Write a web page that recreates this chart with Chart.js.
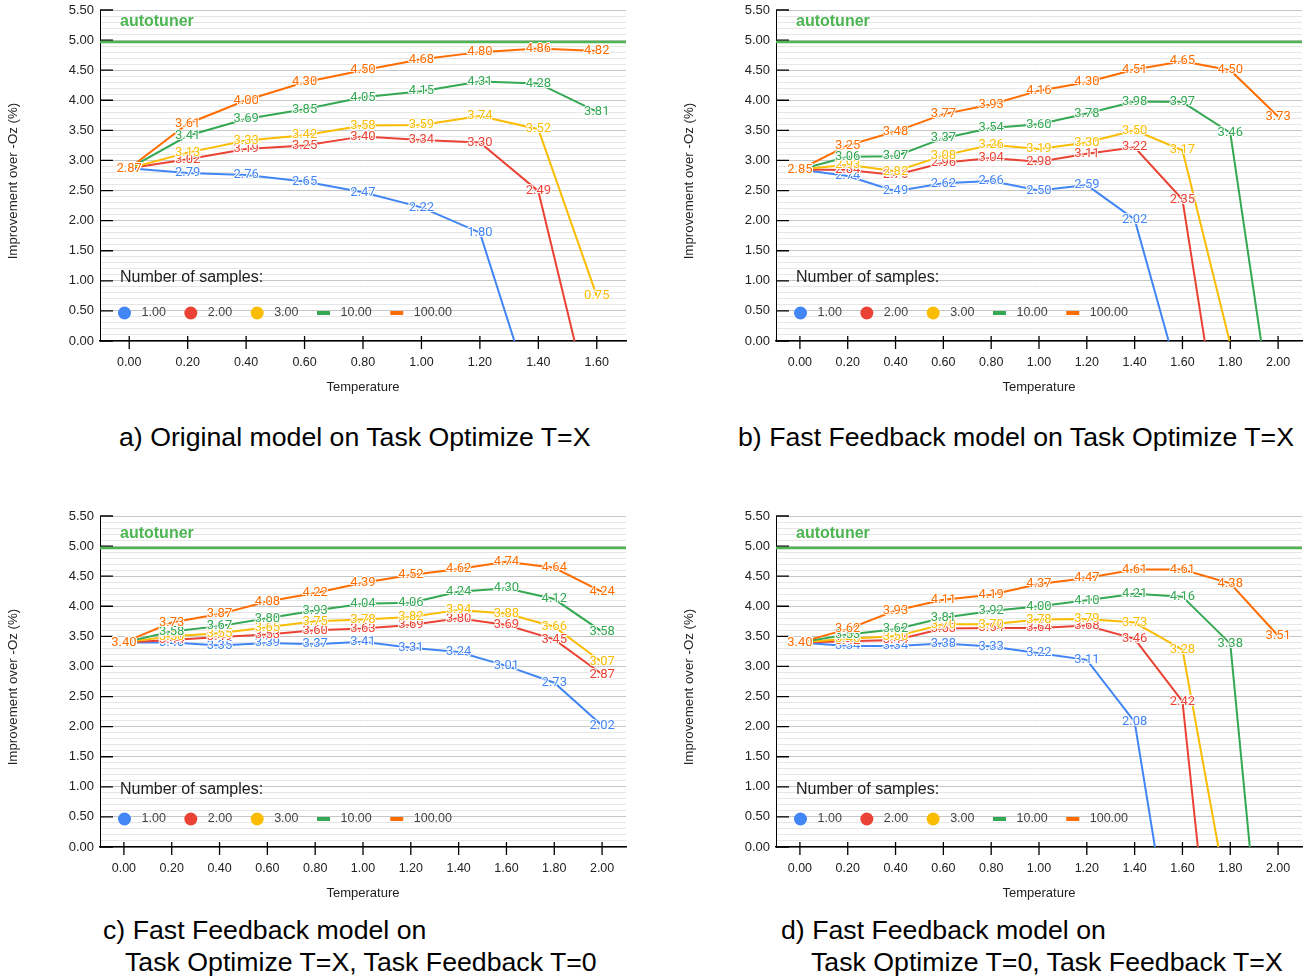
<!DOCTYPE html>
<html>
<head>
<meta charset="utf-8">
<script src="https://cdn.jsdelivr.net/npm/chart.js@4.4.1/dist/chart.umd.min.js"></script>
<style>
  body { margin: 0; background: #fff; width: 1307px; height: 978px; position: relative; overflow: hidden;
         font-family: "Liberation Sans", Arial, sans-serif; }
  .panel { position: absolute; }
  .caption { position: absolute; font-size: 26.7px; line-height: 32px; color: #000; white-space: nowrap; }
</style>
</head>
<body>
<div class="panel" style="left:0;top:0;width:640px;height:400px"><canvas id="chartA"></canvas></div>
<div class="panel" style="left:676px;top:0;width:631px;height:400px"><canvas id="chartB"></canvas></div>
<div class="panel" style="left:0;top:506px;width:640px;height:400px"><canvas id="chartC"></canvas></div>
<div class="panel" style="left:676px;top:506px;width:631px;height:400px"><canvas id="chartD"></canvas></div>

<div class="caption" style="left:119px;top:421px">a) Original model on Task Optimize T=X</div>
<div class="caption" style="left:738px;top:421px">b) Fast Feedback model on Task Optimize T=X</div>
<div class="caption" style="left:103px;top:914px">c) Fast Feedback model on</div>
<div class="caption" style="left:125px;top:946px">Task Optimize T=X, Task Feedback T=0</div>
<div class="caption" style="left:781px;top:914px">d) Fast Feedback model on</div>
<div class="caption" style="left:811px;top:946px">Task Optimize T=0, Task Feedback T=X</div>

<script>
// temperatures (x categories)
const tempsShort = ['0.00', '0.20', '0.40', '0.60', '0.80', '1.00', '1.20', '1.40', '1.60'];
const tempsLong = ['0.00', '0.20', '0.40', '0.60', '0.80', '1.00', '1.20', '1.40', '1.60', '1.80', '2.00'];
const sampleCounts = ['1.00', '2.00', '3.00', '10.00', '100.00'];
const autotuner = 4.97;

// a) Original model on Task Optimize T=X
const a1 = [2.87, 2.79, 2.76, 2.65, 2.47, 2.22, 1.80, -1.25, null];
const a2 = [2.87, 3.02, 3.19, 3.25, 3.40, 3.34, 3.30, 2.49, -1.53];
const a3 = [2.87, 3.13, 3.33, 3.42, 3.58, 3.59, 3.74, 3.52, 0.75];
const a10 = [2.87, 3.41, 3.69, 3.85, 4.05, 4.15, 4.31, 4.28, 3.81];
const a100 = [2.87, 3.61, 4.00, 4.30, 4.50, 4.68, 4.80, 4.86, 4.82];

// b) Fast Feedback model on Task Optimize T=X
const b1 = [2.85, 2.74, 2.49, 2.62, 2.66, 2.50, 2.59, 2.02, -0.82, null, null];
const b2 = [2.85, 2.84, 2.76, 2.96, 3.04, 2.98, 3.11, 3.22, 2.35, -2.69, null];
const b3 = [2.85, 2.93, 2.82, 3.08, 3.26, 3.19, 3.30, 3.50, 3.17, -0.05, null];
const b10 = [2.85, 3.06, 3.07, 3.37, 3.54, 3.60, 3.78, 3.98, 3.97, 3.46, -1.91];
const b100 = [2.85, 3.25, 3.48, 3.77, 3.93, 4.16, 4.30, 4.51, 4.65, 4.50, 3.73];

// c) Task Optimize T=X, Task Feedback T=0
const c1 = [3.40, 3.40, 3.35, 3.39, 3.37, 3.41, 3.31, 3.24, 3.01, 2.73, 2.02];
const c2 = [3.40, 3.44, 3.49, 3.53, 3.60, 3.63, 3.69, 3.80, 3.69, 3.45, 2.87];
const c3 = [3.40, 3.50, 3.55, 3.65, 3.75, 3.78, 3.82, 3.94, 3.88, 3.66, 3.07];
const c10 = [3.40, 3.58, 3.67, 3.80, 3.93, 4.04, 4.06, 4.24, 4.30, 4.12, 3.58];
const c100 = [3.40, 3.73, 3.87, 4.08, 4.22, 4.39, 4.52, 4.62, 4.74, 4.64, 4.24];

// d) Task Optimize T=0, Task Feedback T=X
const d1 = [3.40, 3.34, 3.34, 3.38, 3.33, 3.22, 3.11, 2.08, -2.82, null, null];
const d2 = [3.40, 3.42, 3.44, 3.63, 3.64, 3.64, 3.68, 3.46, 2.42, -5.10, null];
const d3 = [3.40, 3.46, 3.50, 3.70, 3.70, 3.78, 3.79, 3.73, 3.28, -1.09, null];
const d10 = [3.40, 3.53, 3.62, 3.81, 3.92, 4.00, 4.10, 4.21, 4.16, 3.38, -4.90];
const d100 = [3.40, 3.62, 3.93, 4.11, 4.19, 4.37, 4.47, 4.61, 4.61, 4.38, 3.51];

const colors = ['#4285f4', '#ea4335', '#fbbc04', '#34a853', '#ff6d01'];
const autotunerColor = '#4db552';
const fontFamily = '"Liberation Sans", Arial, sans-serif';

Chart.defaults.font.family = fontFamily;
Chart.defaults.color = '#222';

function isMajor(v) {
    return Math.round(v * 10) % 5 === 0;
}

// short black tick marks on the axes
const axisTicks = {
    id: 'axisTicks',
    beforeDatasetsDraw(chart) {
        const {ctx, chartArea, scales} = chart;
        ctx.save();
        ctx.strokeStyle = '#000';
        ctx.lineWidth = 1.3;
        ctx.beginPath();
        scales.y.ticks.forEach(t => {
            if (!isMajor(t.value)) return;
            const y = scales.y.getPixelForValue(t.value);
            ctx.moveTo(chartArea.left, y);
            ctx.lineTo(chartArea.left + 13, y);
        });
        scales.x.ticks.forEach((t, i) => {
            const x = scales.x.getPixelForTick(i);
            ctx.moveTo(x, chartArea.bottom - 5);
            ctx.lineTo(x, chartArea.bottom + 8);
        });
        ctx.stroke();
        ctx.restore();
    }
};

// value labels centred on each point
const pointLabels = {
    id: 'pointLabels',
    afterDatasetsDraw(chart) {
        const ctx = chart.ctx;
        ctx.save();
        ctx.font = '13px Roboto, "Liberation Sans", Arial';
        ctx.textAlign = 'center';
        ctx.textBaseline = 'middle';
        ctx.lineJoin = 'round';
        ctx.lineWidth = 2;
        ctx.strokeStyle = '#fff';
        chart.data.datasets.forEach((ds, i) => {
            if (!ds.showLabels) return;
            chart.getDatasetMeta(i).data.forEach((pt, j) => {
                const v = ds.data[j];
                if (v === null || v < 0) return;
                const txt = v.toFixed(2);
                ctx.strokeText(txt, pt.x, pt.y);
                ctx.fillStyle = ds.borderColor;
                ctx.fillText(txt, pt.x, pt.y);
            });
        });
        ctx.restore();
    }
};

// "autotuner" tag and the inner legend
const innerLegend = {
    id: 'innerLegend',
    afterDatasetsDraw(chart, args, opts) {
        const {ctx, chartArea} = chart;
        ctx.save();
        ctx.textBaseline = 'middle';
        ctx.textAlign = 'left';

        ctx.font = 'bold 16px ' + fontFamily;
        ctx.fillStyle = autotunerColor;
        ctx.fillText('autotuner', chartArea.left + 20, chartArea.top + opts.tagDy);

        ctx.font = '16px ' + fontFamily;
        ctx.fillStyle = '#222';
        ctx.fillText('Number of samples:', chartArea.left + 20, chartArea.top + opts.titleDy);

        const y = chartArea.top + 303;
        let x = chartArea.left + 18;
        ctx.font = '12.5px ' + fontFamily;
        sampleCounts.forEach((name, i) => {
            ctx.fillStyle = colors[i];
            if (i < 3) {
                ctx.beginPath();
                ctx.arc(x + 6.5, y, 6.5, 0, Math.PI * 2);
                ctx.fill();
            } else {
                ctx.fillRect(x, y - 2, 13, 4);
            }
            x += 23.5;
            ctx.fillStyle = '#444';
            ctx.fillText(name, x, y);
            x += ctx.measureText(name).width + 18.5;
        });
        ctx.restore();
    }
};

function makeChart(id, temps, series, rightPad, tagDy, titleDy) {
    const datasets = series.map((vals, i) => ({
        label: sampleCounts[i],
        data: vals,
        borderColor: colors[i],
        backgroundColor: colors[i],
        borderWidth: 2,
        pointRadius: 0,
        order: series.length - i,
        showLabels: true
    }));
    datasets.push({
        label: 'autotuner',
        data: [{x: 0, y: autotuner}, {x: 1, y: autotuner}],
        xAxisID: 'xa',
        borderColor: autotunerColor,
        borderWidth: 2.5,
        pointRadius: 0,
        order: 10
    });

    return new Chart(document.getElementById(id), {
        type: 'line',
        data: { labels: temps, datasets: datasets },
        options: {
            responsive: true,
            maintainAspectRatio: false,
            animation: false,
            layout: { padding: { top: 10, right: rightPad, left: 0, bottom: 0 } },
            plugins: {
                legend: { display: false },
                tooltip: { enabled: false },
                innerLegend: { tagDy: tagDy, titleDy: titleDy }
            },
            scales: {
                x: {
                    type: 'category',
                    offset: true,
                    grid: { display: false, drawTicks: false },
                    border: { display: true, color: '#000', width: 1.5 },
                    ticks: { font: { size: 12.5 }, color: '#222', padding: 14, maxRotation: 0, autoSkip: false },
                    title: { display: true, text: 'Temperature', font: { size: 13 }, color: '#222',
                             padding: { top: 0, bottom: 5 } },
                    afterFit: s => { s.height = 59; }
                },
                xa: { type: 'linear', display: false, min: 0, max: 1 },
                y: {
                    min: 0,
                    max: 5.5,
                    ticks: {
                        stepSize: 0.1,
                        autoSkip: false,
                        font: { size: 13 },
                        color: '#222',
                        padding: 6,
                        callback: v => isMajor(v) ? v.toFixed(2) : ''
                    },
                    grid: {
                        drawTicks: false,
                        color: c => (c.tick && isMajor(c.tick.value)) ? '#c6c6c6' : '#e6e6e6',
                        lineWidth: 1
                    },
                    border: { display: true, color: '#000', width: 1 },
                    title: { display: true, text: 'Improvement over -Oz (%)   ', font: { size: 13.3 }, color: '#222',
                             padding: { top: 5, bottom: 0 } },
                    afterFit: s => { s.width = 100; s.paddingTop = 0; s.paddingBottom = 0; }
                }
            }
        },
        plugins: [axisTicks, pointLabels, innerLegend]
    });
}

makeChart('chartA', tempsShort, [a1, a2, a3, a10, a100], 14, 12, 268);
makeChart('chartB', tempsLong, [b1, b2, b3, b10, b100], 5, 12, 268);
makeChart('chartC', tempsLong, [c1, c2, c3, c10, c100], 14, 18, 274);
makeChart('chartD', tempsLong, [d1, d2, d3, d10, d100], 5, 18, 274);
</script>
</body>
</html>
